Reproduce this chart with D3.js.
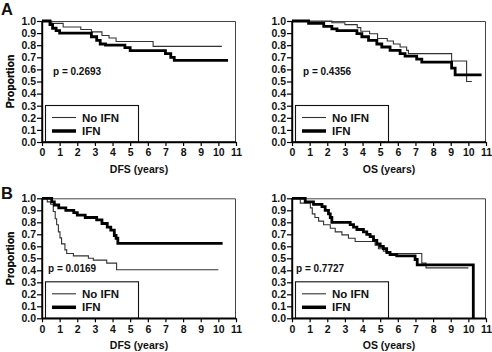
<!DOCTYPE html>
<html><head><meta charset="utf-8">
<script src="https://cdn.jsdelivr.net/npm/d3@7"></script>
<style>
body{margin:0;background:#fff}
text{font-family:"Liberation Sans",Arial,Helvetica,sans-serif;font-weight:bold;fill:#111}
</style>
</head><body>
<svg id="c" width="492" height="352"></svg>
<script>
// ---- data ----
const xTickValues = [0,1,2,3,4,5,6,7,8,9,10,11];
const yTickValues = [0,0.1,0.2,0.3,0.4,0.5,0.6,0.7,0.8,0.9,1.0];
const seriesNames = ["No IFN","IFN"];
const panelLetters = ["A","B"];
const xTitles = ["DFS (years)","OS (years)","DFS (years)","OS (years)"];
const pValues = ["p = 0.2693","p = 0.4356","p = 0.0169","p = 0.7727"];

// [time (years), proportion] step points
const aDfsNoIfn = [[0,1],[0.55,0.98],[1.2,0.95],[2.2,0.93],[2.8,0.91],[3.4,0.88],[3.8,0.86],[4.2,0.83],[6.3,0.79],[10.2,0.79]];
const aDfsIfn = [[0,1],[0.45,0.97],[0.6,0.94],[0.8,0.92],[1.0,0.90],[2.8,0.87],[3.1,0.84],[3.3,0.81],[3.6,0.80],[4.7,0.78],[5.0,0.755],[7.0,0.73],[7.3,0.70],[7.5,0.675],[10.55,0.675]];
const aOsNoIfn = [[0,1],[2.26,0.986],[3.0,0.97],[3.7,0.945],[3.9,0.915],[4.4,0.895],[4.85,0.855],[5.4,0.835],[5.75,0.81],[6.13,0.785],[6.5,0.757],[6.6,0.73],[9.05,0.67],[9.9,0.50],[10.2,0.50]];
const aOsIfn = [[0,1],[0.94,0.98],[1.8,0.955],[2.26,0.935],[2.55,0.92],[3.68,0.895],[3.96,0.87],[4.34,0.84],[4.81,0.81],[5.09,0.785],[5.56,0.757],[6.13,0.73],[6.41,0.71],[7.07,0.685],[7.36,0.66],[9.05,0.61],[9.25,0.555],[10.75,0.555]];
const bDfsNoIfn = [[0,1],[0.3,0.97],[0.49,0.95],[0.64,0.89],[0.75,0.83],[0.83,0.78],[0.93,0.72],[1.02,0.67],[1.11,0.62],[1.3,0.57],[1.4,0.54],[1.78,0.52],[2.63,0.50],[2.91,0.485],[3.67,0.46],[4.23,0.405],[10.0,0.405]];
const bDfsIfn = [[0,1],[0.55,0.97],[0.7,0.944],[0.95,0.92],[1.35,0.90],[1.8,0.88],[2.0,0.86],[2.45,0.84],[3.1,0.82],[3.4,0.79],[3.7,0.76],[3.9,0.735],[4.1,0.69],[4.2,0.667],[4.3,0.625],[10.24,0.625]];
const bOsNoIfn = [[0,1],[0.47,0.96],[1.04,0.92],[1.15,0.87],[1.3,0.84],[1.51,0.81],[1.79,0.78],[2.17,0.75],[2.45,0.72],[2.83,0.695],[3.2,0.667],[3.58,0.64],[4.71,0.61],[4.9,0.58],[5.18,0.56],[5.37,0.54],[7.36,0.46],[7.6,0.42],[10.0,0.42]];
const bOsIfn = [[0,1],[0.75,0.97],[1.22,0.95],[1.7,0.93],[1.88,0.90],[2.07,0.87],[2.17,0.84],[2.26,0.80],[3.3,0.78],[3.49,0.76],[3.68,0.74],[4.05,0.72],[4.24,0.70],[4.43,0.68],[4.62,0.65],[4.81,0.62],[5.0,0.60],[5.18,0.58],[5.37,0.55],[5.56,0.53],[5.94,0.52],[6.98,0.49],[7.1,0.445],[10.28,0.445],[10.28,0]];

const panels = [
  {x:42,y:21,w:194,h:121,noIfn:aDfsNoIfn,ifn:aDfsIfn,title:xTitles[0],p:pValues[0],pPos:[53,74.5],letter:panelLetters[0],lpos:[1,15]},
  {x:292,y:21,w:194,h:121,noIfn:aOsNoIfn,ifn:aOsIfn,title:xTitles[1],p:pValues[1],pPos:[303,74.5]},
  {x:42,y:198.3,w:194,h:120,noIfn:bDfsNoIfn,ifn:bDfsIfn,title:xTitles[2],p:pValues[2],pPos:[48,272],letter:panelLetters[1],lpos:[1,199]},
  {x:292,y:198.3,w:194,h:120,noIfn:bOsNoIfn,ifn:bOsIfn,title:xTitles[3],p:pValues[3],pPos:[296,272]}
];

const svg = d3.select("#c");

panels.forEach(P=>{
  const g = svg.append("g").attr("transform",`translate(${P.x},${P.y})`);
  const x = d3.scaleLinear().domain([0,11]).range([0,P.w]);
  const y = d3.scaleLinear().domain([0,1]).range([P.h,0]);

  // frame top/right
  g.append("path").attr("d",`M0,0.5H${P.w-0.5}V${P.h}`).attr("fill","none").attr("stroke","#444").attr("stroke-width",1);

  // curves
  const line = d3.line().x(d=>x(d[0])).y(d=>y(d[1])).curve(d3.curveStepAfter);
  g.append("path").datum(P.noIfn).attr("d",line).attr("fill","none").attr("stroke","#333").attr("stroke-width",1.1);
  g.append("path").datum(P.ifn).attr("d",line).attr("fill","none").attr("stroke","#000").attr("stroke-width",2.8);

  // axes
  const ya = g.append("g").call(d3.axisLeft(y).tickValues(yTickValues).tickSize(5).tickSizeOuter(0).tickPadding(1).tickFormat(d3.format(".1f")));
  const xa = g.append("g").attr("transform",`translate(0,${P.h})`).call(d3.axisBottom(x).tickValues(xTickValues).tickSize(4).tickSizeOuter(0).tickPadding(3).tickFormat(d3.format("d")));
  [ya,xa].forEach(a=>{
    a.select(".domain").attr("stroke","#000").attr("stroke-width",1.4);
    a.selectAll(".tick line").attr("stroke","#000").attr("stroke-width",1.2);
    a.selectAll(".tick text").style("font-size","10.5px").style("font-family","'Liberation Sans',Arial,sans-serif").style("font-weight","bold").attr("fill","#111");
  });

  // legend
  const lg = g.append("g").attr("transform",`translate(3,${P.h-37})`);
  lg.append("rect").attr("x",0.5).attr("y",0.5).attr("width",93).attr("height",36.5).attr("fill","#fff").attr("stroke","#111").attr("stroke-width",1.1);
  seriesNames.forEach((n,i)=>{
    const yy = i===0 ? 12.5 : 26;
    lg.append("line").attr("x1",7).attr("x2",31).attr("y1",yy).attr("y2",yy).attr("stroke",i===0?"#333":"#000").attr("stroke-width",i===0?1.1:3.5);
    lg.append("text").attr("x",37).attr("y",yy+4).style("font-size","11.5px").text(n);
  });
  // redraw axis lines on top of legend
  g.append("line").attr("x1",0).attr("x2",P.w).attr("y1",P.h).attr("y2",P.h).attr("stroke","#000").attr("stroke-width",1.4);
  g.append("line").attr("x1",0).attr("x2",0).attr("y1",0).attr("y2",P.h).attr("stroke","#000").attr("stroke-width",1.4);

  // p value
  svg.append("text").attr("x",P.pPos[0]).attr("y",P.pPos[1]).style("font-size","10px").text(P.p);

  // titles
  svg.append("text").attr("x",P.x+P.w/2).attr("y",P.y+P.h+31).attr("text-anchor","middle").style("font-size","10.5px").text(P.title);
  svg.append("text").attr("transform",`translate(14,${P.y+P.h/2}) rotate(-90)`).attr("text-anchor","middle").style("font-size","10.5px").text("Proportion");
  if(P.letter){
    svg.append("text").attr("x",P.lpos[0]).attr("y",P.lpos[1]).style("font-size","16.5px").text(P.letter);
  }
});
</script>
</body></html>
